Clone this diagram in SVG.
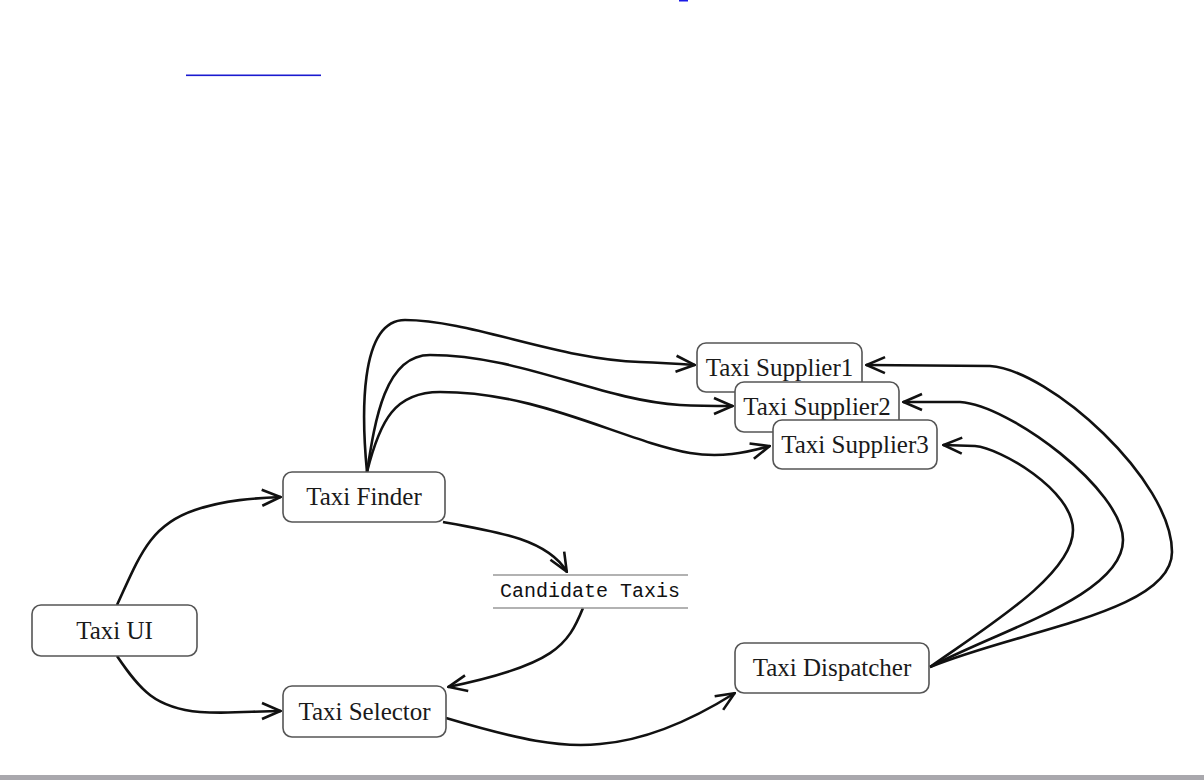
<svg xmlns="http://www.w3.org/2000/svg" width="1204" height="780" viewBox="0 0 1204 780">
<style>
.box{fill:#fff;stroke:#555;stroke-width:1.6}
.lbl{font-family:"Liberation Serif","Times New Roman",serif;font-size:25px;fill:#1a1a1a;text-anchor:middle}
.mono{font-family:"Liberation Mono","Courier New",monospace;font-size:20px;fill:#111;text-anchor:middle}
.edge{fill:none;stroke:#111;stroke-width:2.6;marker-end:url(#arr)}
</style>
<defs>
<marker id="arr" viewBox="0 0 22 20" refX="21" refY="10" markerWidth="22" markerHeight="20" markerUnits="userSpaceOnUse" orient="auto">
<path d="M2,2 L20.5,10 L2,18" fill="none" stroke="#111" stroke-width="2.6" stroke-linejoin="miter"/>
</marker>
</defs>
<rect width="1204" height="780" fill="#fff"/>
<rect x="679" y="0" width="9" height="1.5" fill="#1a1ae6"/>
<rect x="186" y="74.5" width="135" height="1.6" fill="#1a1ad0"/>
<rect x="0" y="775" width="1204" height="5" fill="#a9a8ad"/>

<g id="connectors">
<path class="edge" d="M117,605 C140,555 150,525 195,510 C225,500 255,498 281,497"/>
<path class="edge" d="M117,656 C140,690 155,708 200,712 C230,714 255,711 281,711"/>
<path class="edge" d="M443,522 C500,532 548,540 567,572"/>
<path class="edge" d="M583,608 C568,645 555,665 448,687"/>
<path class="edge" d="M446,718 C520,740 560,748 600,744 C650,740 700,715 735,693"/>
<path class="edge" d="M367,472 C362,420 358,320 405,320 C470,320 560,360 640,362 C665,363 680,364 695,365"/>
<path class="edge" d="M367,472 C375,420 385,355 430,355 C520,355 600,400 680,405 C700,406 715,406 733,406"/>
<path class="edge" d="M367,472 C380,420 395,392 440,392 C540,392 620,440 690,453 C720,458 745,453 770,446"/>
<path class="edge" d="M930,667 C985,628 1073,575 1073,530 C1073,490 1000,448 975,446 L943,445"/>
<path class="edge" d="M930,667 C1000,630 1123,595 1123,540 C1123,490 1010,405 960,402 L903,402"/>
<path class="edge" d="M930,667 C1020,630 1172,612 1172,552 C1172,480 1050,370 990,366 L866,365"/>
</g>

<g id="taxi-ui"><rect class="box" x="32" y="605" width="165" height="51" rx="9"/><text class="lbl" x="114.5" y="639">Taxi UI</text></g>
<g id="taxi-finder"><rect class="box" x="283" y="472" width="162" height="50" rx="9"/><text class="lbl" x="364" y="505">Taxi Finder</text></g>
<g id="taxi-selector"><rect class="box" x="283" y="686" width="163" height="51" rx="9"/><text class="lbl" x="364.5" y="720">Taxi Selector</text></g>
<g id="candidate-taxis">
<line x1="493" y1="575" x2="688" y2="575" stroke="#999" stroke-width="1.6"/>
<line x1="493" y1="608" x2="688" y2="608" stroke="#999" stroke-width="1.6"/>
<text class="mono" x="590" y="597">Candidate Taxis</text>
</g>
<g id="taxi-dispatcher"><rect class="box" x="735" y="643" width="194" height="50" rx="9"/><text class="lbl" x="832" y="676">Taxi Dispatcher</text></g>
<g id="taxi-supplier1"><rect class="box" x="697" y="343" width="165" height="49" rx="9"/><text class="lbl" x="779.5" y="376">Taxi Supplier1</text></g>
<g id="taxi-supplier2"><rect class="box" x="735" y="382" width="164" height="50" rx="9"/><text class="lbl" x="817" y="415">Taxi Supplier2</text></g>
<g id="taxi-supplier3"><rect class="box" x="773" y="420" width="164" height="49" rx="9"/><text class="lbl" x="855" y="453">Taxi Supplier3</text></g>
</svg>
